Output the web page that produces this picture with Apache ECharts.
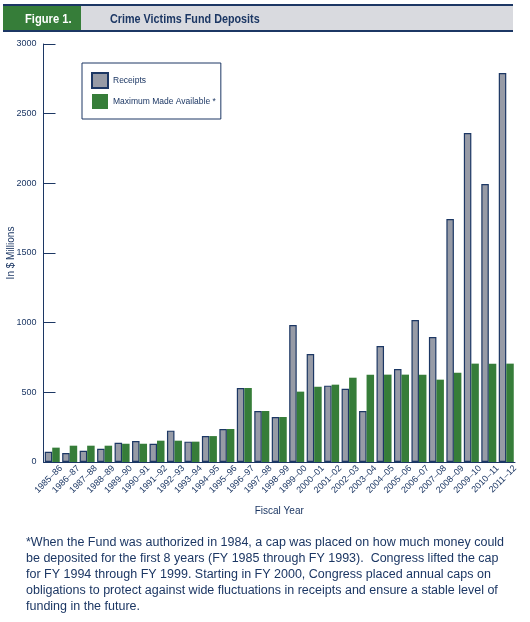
<!DOCTYPE html>
<html>
<head>
<meta charset="utf-8">
<script src="https://cdn.jsdelivr.net/npm/echarts@6/dist/echarts.min.js"></script>
<style>
  html, body { margin: 0; padding: 0; background: #fff; }
  #main { width: 530px; height: 622px; }
</style>
</head>
<body>
<div id="main"></div>
<script>
  // fiscal years
  var years = [
    '1985–86', '1986–87', '1987–88', '1988–89', '1989–90', '1990–91', '1991–92',
    '1992–93', '1993–94', '1994–95', '1995–96', '1996–97', '1997–98', '1998–99',
    '1999–00', '2000–01', '2001–02', '2002–03', '2003–04', '2004–05', '2005–06',
    '2006–07', '2007–08', '2008–09', '2009–10', '2010–11', '2011–12'
  ]
  // $ millions
  var receipts = [
    74, 64, 81, 95, 138, 150, 131, 225, 146, 186, 237, 531, 366, 323,
    983, 775, 548, 526, 366, 833, 667, 1019, 897, 1744, 2361, 1995, 2792
  ]
  var maxAvailable = [
    103, 117, 117, 117, 131, 131, 153, 153, 146, 186, 237, 531, 366, 323,
    505, 540, 555, 605, 627, 627, 627, 627, 591, 641, 706, 706, 706
  ]
  var yTicks = { min: 0, max: 3000, step: 500 }

  var footnote = [
    '*When the Fund was authorized in 1984, a cap was placed on how much money could',
    'be deposited for the first 8 years (FY 1985 through FY 1993).  Congress lifted the cap',
    'for FY 1994 through FY 1999. Starting in FY 2000, Congress placed annual caps on',
    'obligations to protect against wide fluctuations in receipts and ensure a stable level of',
    'funding in the future.'
  ]

  var navy = '#1c3764'
  var green = '#367d39'
  var grey = '#979ba6'
  var sans = '"Liberation Sans", Arial, sans-serif'

  var chart = echarts.init(document.getElementById('main'))

  var option = {
    animation: false,
    grid: { left: 43.5, right: 15, top: 44, bottom: 160, outerBoundsMode: 'none' },
    legend: {
      orient: 'vertical',
      left: 82,
      top: 63,
      padding: [9, 5, 10, 9],
      itemWidth: 16,
      itemHeight: 15,
      itemGap: 5,
      borderColor: navy,
      borderWidth: 1,
      backgroundColor: '#fff',
      icon: 'rect',
      textStyle: { fontFamily: sans, fontSize: 8.5, color: navy },
    },
    xAxis: [
      {
        type: 'category',
        data: years,
        name: 'Fiscal Year',
        nameLocation: 'middle',
        nameGap: 44,
        nameMoveOverlap: false,
        nameTextStyle: { fontFamily: sans, fontSize: 10, color: navy },
        axisLine: { lineStyle: { color: navy, width: 1 } },
        axisTick: { inside: true, length: 11, lineStyle: { color: navy } },
        axisLabel: { show: false },
      },
      {
        // labels sit at the right edge of each year's slot, as in the print
        type: 'category',
        position: 'bottom',
        boundaryGap: false,
        data: [''].concat(years),
        axisLine: { show: false },
        axisTick: { show: false },
        axisLabel: {
          rotate: 45,
          interval: 0,
          margin: 5,
          fontFamily: sans,
          fontSize: 9,
          color: navy,
        },
      },
    ],
    yAxis: {
      type: 'value',
      min: yTicks.min,
      max: yTicks.max,
      interval: yTicks.step,
      name: 'In $ Millions',
      nameLocation: 'middle',
      nameGap: 27,
      nameMoveOverlap: false,
      nameTextStyle: { fontFamily: sans, fontSize: 10, color: navy },
      axisLine: { show: true, lineStyle: { color: navy, width: 1 } },
      axisTick: { show: true, inside: true, length: 12, lineStyle: { color: navy } },
      splitLine: { show: false },
      axisLabel: {
        margin: 7,
        fontFamily: sans,
        fontSize: 9,
        color: navy,
        formatter: function (v) { return String(v) },
      },
    },
    series: [
      {
        name: 'Receipts',
        type: 'bar',
        data: receipts,
        barWidth: 7.5,
        barGap: 0,
        itemStyle: { color: grey, borderColor: navy, borderWidth: 1.2 },
      },
      {
        name: 'Maximum Made Available *',
        type: 'bar',
        data: maxAvailable,
        barWidth: 7.5,
        barGap: 0,
        itemStyle: { color: green },
      },
    ],
    graphic: [
      { type: 'rect', shape: { x: 3, y: 4, width: 510, height: 2 }, style: { fill: navy } },
      { type: 'rect', shape: { x: 3, y: 6, width: 78, height: 24 }, style: { fill: green } },
      { type: 'rect', shape: { x: 81, y: 6, width: 432, height: 24 }, style: { fill: '#d9dadf' } },
      { type: 'rect', shape: { x: 3, y: 30, width: 510, height: 2 }, style: { fill: navy } },
      {
        type: 'text', x: 25, y: 19, scaleX: 0.86,
        style: { text: 'Figure 1.', fill: '#fff', font: 'bold 13px ' + sans, verticalAlign: 'middle' },
      },
      {
        type: 'text', x: 110, y: 19, scaleX: 0.83,
        style: { text: 'Crime Victims Fund Deposits', fill: navy, font: 'bold 13px ' + sans, verticalAlign: 'middle' },
      },
      {
        type: 'text', x: 26, y: 535,
        style: {
          text: footnote.join('\n'),
          fill: navy,
          font: '12.5px ' + sans,
          lineHeight: 16,
        },
      },
    ],
  }

  chart.setOption(option)
</script>
</body>
</html>
